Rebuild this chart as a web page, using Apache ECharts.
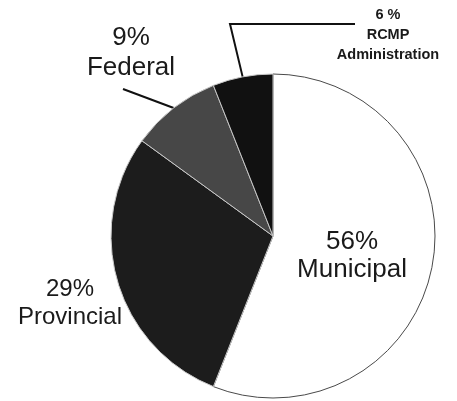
<!DOCTYPE html>
<html><head><meta charset="utf-8">
<script src="https://cdn.jsdelivr.net/npm/echarts@6/dist/echarts.min.js"></script>
<style>html,body{margin:0;padding:0;background:#fff}#c{width:457px;height:401px}</style>
</head><body><div id="c"></div>
<script>
const categories = ['Municipal', 'Provincial', 'Federal', 'RCMP Administration'];
const values = [56, 29, 9, 6];
const labelTexts = ['56%\nMunicipal', '29%\nProvincial', '9%\nFederal', '6 %\nRCMP\nAdministration'];
const colors = ['#ffffff', '#1c1c1c', '#474747', '#111111'];

const chart = echarts.init(document.getElementById('c'), null, {renderer: 'canvas'});
const labelStyles = [
  {fontSize: 26, lineHeight: 28, fontWeight: 'normal'},
  {fontSize: 24, lineHeight: 28, fontWeight: 'normal'},
  {fontSize: 26, lineHeight: 30, fontWeight: 'normal'},
  {fontSize: 14.5, lineHeight: 20, fontWeight: 'bold'}
];
const labelPos = [[352, 256], [70, 303], [131, 53], [388, 35]];
const data = categories.map((c, i) => ({
  name: c,
  value: values[i],
  itemStyle: {
    color: colors[i],
    borderColor: i === 0 ? '#4a4a4a' : '#c8c8c8',
    borderWidth: 1
  },
  label: Object.assign({
    show: true,
    position: i === 0 ? 'inside' : 'outside',
    formatter: labelTexts[i],
    color: '#1a1a1a',
    fontFamily: 'Liberation Sans, Arial, sans-serif',
    align: 'center',
    overflow: 'none',
    width: 200
  }, labelStyles[i]),
  labelLine: {show: i >= 2, lineStyle: {color: '#111', width: 2}, length: 20, length2: 20}
}));

chart.setOption({
  backgroundColor: '#ffffff',
  animation: false,
  series: [{
    type: 'pie',
    center: [273, 236],
    radius: 162,
    startAngle: 90,
    clockwise: true,
    silent: true,
    avoidLabelOverlap: false,
    data: data,
    labelLayout: function (p) {
      const i = p.dataIndex;
      const res = {x: labelPos[i][0], y: labelPos[i][1], align: 'center', verticalAlign: 'middle', hideOverlap: false, moveOverlap: null};
      if (p.labelLinePoints && i === 2) {
        const s = p.labelLinePoints[0];
        res.labelLinePoints = [s, [123, 89], [123, 89]];
      } else if (p.labelLinePoints && i === 3) {
        const s = p.labelLinePoints[0];
        res.labelLinePoints = [s, [230, 24], [355, 24]];
      }
      return res;
    }
  }]
});
</script></body></html>
